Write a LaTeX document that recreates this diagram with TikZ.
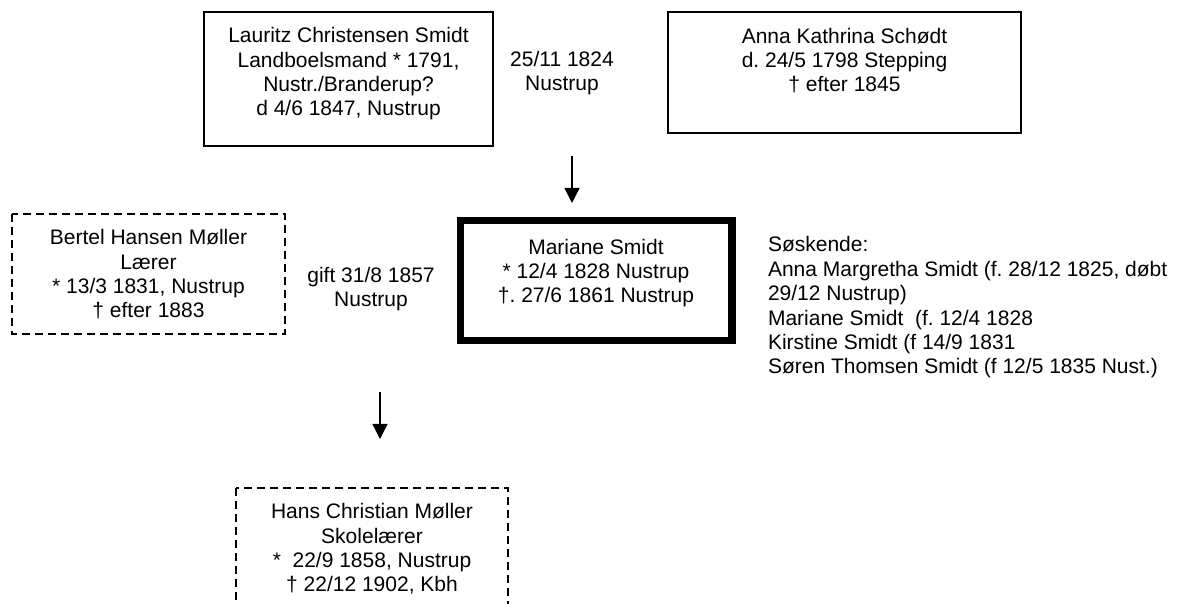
\documentclass[tikz,border=0pt]{standalone}
\usepackage{fontspec}
\setmainfont{Liberation Sans}
\usetikzlibrary{arrows.meta}
\frenchspacing
\begin{document}
\begin{tikzpicture}[x=0.5pt,y=0.5pt]
\definecolor{fillColor}{RGB}{255,255,255}
\definecolor{drawColor}{RGB}{0,0,0}
\tikzset{
  person/.style={text=drawColor,anchor=base,align=center,inner sep=0pt,outer sep=0pt,font=\fontsize{10.5}{12.2}\selectfont\frenchspacing},
  descent/.style={draw=drawColor,line width=0.65pt,-{Triangle[length=7.5pt,width=7.5pt]}}
}
\path[use as bounding box,fill=fillColor] (0,0) rectangle (1177,604);
\begin{scope}
\path[clip] (0,0) rectangle (1177,604);

% parents
\path[draw=drawColor,line width=0.65pt] (204,592) rectangle (493,458);

\node[person] (lauritz) at (348.5,488) {Lauritz Christensen Smidt\\Landboelsmand * 1791,\\Nustr./Branderup?\\d 4/6 1847, Nustrup};

\path[draw=drawColor,line width=0.65pt] (668,592) rectangle (1021,471);

\node[person] (anna) at (844.5,512) {Anna Kathrina Schødt\\d. 24/5 1798 Stepping\\† efter 1845};

\node[person] (wedding) at (562,513) {25/11 1824\\Nustrup};

\coordinate (wedTop) at (572,448);
\coordinate (wedEnd) at (572,401);
\path[descent] (wedTop) -- (wedEnd);

% main person
\path[draw=drawColor,line width=3.75pt] (460.5,383.5) rectangle (732,263.5);

\node[person] (mariane) at (596,301) {Mariane Smidt\\* 12/4 1828 Nustrup\\†. 27/6 1861 Nustrup};

\node[person,anchor=base west,align=left] (siblings) at (768,230) {Søskende:\\Anna Margretha Smidt (f. 28/12 1825, døbt\\29/12 Nustrup)\\Mariane Smidt~ (f. 12/4 1828\\Kirstine Smidt (f 14/9 1831\\Søren Thomsen Smidt (f 12/5 1835 Nust.)};

% spouse
\path[draw=drawColor,line width=0.65pt,dash pattern=on 4pt off 2.5pt] (12,390) rectangle (285,270);

\node[person] (bertel) at (148.5,286) {Bertel Hansen Møller\\Lærer\\* 13/3 1831, Nustrup\\† efter 1883};

\node[person] (gift) at (371,297) {gift 31/8 1857\\Nustrup};

\coordinate (giftTop) at (380,212);
\coordinate (giftEnd) at (380,165);
\path[descent] (giftTop) -- (giftEnd);

% child
\path[draw=drawColor,line width=0.65pt,dash pattern=on 4pt off 2.5pt] (236,116) rectangle (508,-10);

\node[person] (hans) at (372,12) {Hans Christian Møller\\Skolelærer\\*~ 22/9 1858, Nustrup\\† 22/12 1902, Kbh};
\end{scope}
\end{tikzpicture}
\end{document}
